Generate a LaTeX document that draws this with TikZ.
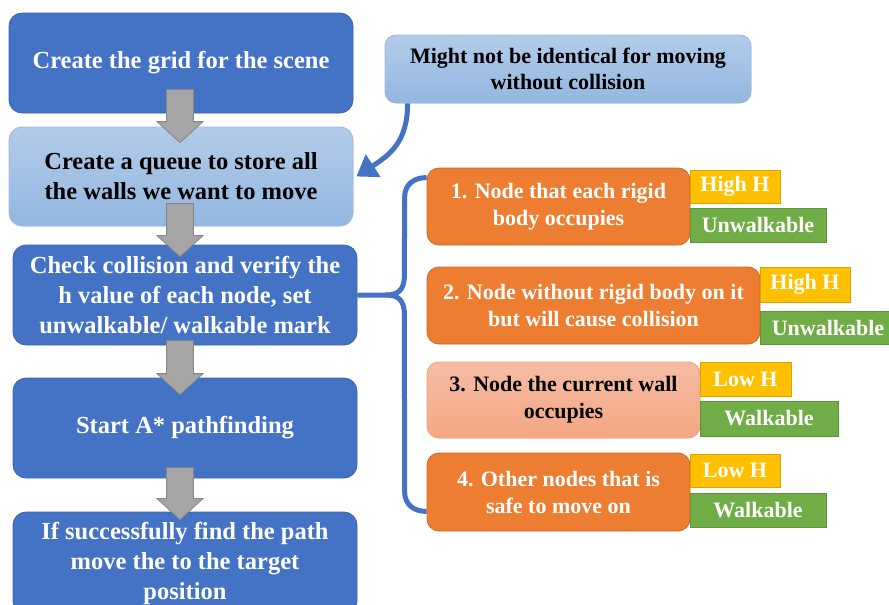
\documentclass[tikz,border=0pt]{standalone}
\usepackage{fontspec}
\setmainfont{Liberation Serif}
\usetikzlibrary{calc,arrows.meta}
\definecolor{dblue}{HTML}{4472C4}
\definecolor{dblueline}{HTML}{3B64AE}
\definecolor{lbtop}{HTML}{B3CBE9}
\definecolor{lbbot}{HTML}{93B7E0}
\definecolor{lbline}{HTML}{9DBBE2}
\definecolor{orng}{HTML}{ED7D31}
\definecolor{orngline}{HTML}{CC6624}
\definecolor{saltop}{HTML}{F6BDA4}
\definecolor{salbot}{HTML}{F4A683}
\definecolor{salline}{HTML}{F0A07E}
\definecolor{ylw}{HTML}{FFC000}
\definecolor{ylwline}{HTML}{D9A300}
\definecolor{grn}{HTML}{70AD47}
\definecolor{grnline}{HTML}{5C9639}
\definecolor{garrow}{HTML}{A5A5A5}
\definecolor{garrowline}{HTML}{868686}
\tikzset{
  bigbox/.style={draw=dblueline, line width=0.8pt, fill=dblue, rounded corners=13pt,
    text=white, font=\fontsize{24.5}{30}\selectfont\bfseries, align=center,
    inner sep=0pt, minimum width=344pt, minimum height=100pt},
  lightbox/.style={bigbox, draw=lbline, top color=lbtop, bottom color=lbbot, text=black},
  notebox/.style={lightbox, font=\fontsize{22}{26.5}\selectfont\bfseries, rounded corners=11pt},
  catbox/.style={draw=orngline, line width=0.8pt, fill=orng, rounded corners=12pt,
    text=white, font=\fontsize{22}{27}\selectfont\bfseries, align=center,
    inner sep=0pt},
  salbox/.style={catbox, draw=salline, top color=saltop, bottom color=salbot, text=black},
  tagy/.style={draw=ylwline, line width=0.8pt, fill=ylw, text=white,
    font=\fontsize{22}{26}\selectfont\bfseries, inner sep=0pt, minimum height=34pt},
  tagg/.style={tagy, draw=grnline, fill=grn},
  grayarrow/.style={fill=garrow, draw=garrowline, line width=0.8pt},
  bluecon/.style={draw=dblue, line width=5pt},
}
\newcommand{\blkarrow}[2]{%
  \draw[grayarrow] ($(#1)+(-13.5,0)$) -- ($(#2)+(-13.5,-21)$) -- ($(#2)+(-23,-21)$)
    -- (#2) -- ($(#2)+(23,-21)$) -- ($(#2)+(13.5,-21)$) -- ($(#1)+(13.5,0)$) -- cycle;}
\begin{document}
\begin{tikzpicture}[x=1pt,y=-1pt]
\useasboundingbox (0,0) rectangle (889,605);
\clip (0,0) rectangle (889,605);
\fill[white] (0,0) rectangle (889,605);

% left column
\node[bigbox] (b1) at (181,63) {Create the grid for the scene};
\node[lightbox, minimum height=99pt] (b2) at (181,176.5) {Create a queue to store all\\the walls we want to move};
\node[bigbox] (b3) at (185,295) {Check collision and verify the\\h value of each node, set\\unwalkable/ walkable mark};
\node[bigbox] (b4) at (185,428) {Start A* pathfinding};
\node[bigbox, minimum height=102pt] (b5) at (185,563) {If successfully find the path\\move the to the target\\position};

% note
\node[notebox, minimum width=366pt, minimum height=68pt] (nb) at (568,69) {Might not be identical for moving\\without collision};

% categories
\node[catbox, minimum width=263pt, minimum height=77pt] (o1) at (558.5,206.5) {1. Node that each rigid\\body occupies};
\node[catbox, minimum width=333pt, minimum height=77pt] (o2) at (593.5,305.5) {2. Node without rigid body on it\\but will cause collision};
\node[salbox, minimum width=273pt, minimum height=76pt] (o3) at (563.5,400) {3. Node the current wall\\occupies};
\node[catbox, minimum width=263pt, minimum height=78pt] (o4) at (558.5,492) {4. Other nodes that is\\safe to move on};

% tags
\node[tagy, minimum width=90pt, minimum height=33pt] (h1) at (735,186.5) {High H};
\node[tagg, minimum width=136pt] (u1) at (758,225) {Unwalkable};
\node[tagy, minimum width=90pt, minimum height=35pt] (h2) at (805,284.5) {High H};
\node[tagg, minimum width=136pt, minimum height=33pt] (u2) at (828,327.5) {Unwalkable};
\node[tagy, minimum width=91pt] (l3) at (745.5,379) {Low H};
\node[tagg, minimum width=138pt, minimum height=35pt] (w3) at (769,418.5) {Walkable};
\node[tagy, minimum width=90pt, minimum height=33pt] (l4) at (735,470.5) {Low H};
\node[tagg, minimum width=136pt] (w4) at (758,510) {Walkable};

% gray block arrows
\coordinate (a1s) at ($(b1.south)+(-1,-24)$);
\coordinate (a1e) at ($(b2.north)+(-1,16)$);
\coordinate (a2s) at ($(b2.south)+(-1,-23)$);
\coordinate (a2e) at ($(b3.north)+(-5,12)$);
\coordinate (a3s) at ($(b3.south)+(-5,-5)$);
\coordinate (a3e) at ($(b4.north)+(-5,17)$);
\coordinate (a4s) at ($(b4.south)+(-5,-11)$);
\coordinate (a4e) at ($(b5.north)+(-5,8)$);
\blkarrow{a1s}{a1e}
\blkarrow{a2s}{a2e}
\blkarrow{a3s}{a3e}
\blkarrow{a4s}{a4e}

% curved arrow from note to queue box
\coordinate (ns) at ($(nb.south west)+(23,0)$);
\draw[bluecon, -{Triangle[length=20pt,width=26pt]}] (ns) .. controls +(0,38) and +(34,-22) .. ($(b2.east)+(3,0)$);

% brace
\coordinate (bt) at ($(o1.north west)+(0,10)$);
\coordinate (bb) at ($(o4.south west)+(0,-20)$);
\coordinate (bm) at ($(b3.east)+(28,0)$);
\draw[bluecon, line join=round] (b3.east) -- (bm)
  .. controls +(12,0) and +(0,16) .. ($(bm)+(19,-20)$)
  -- ($(bt)+(-22,20)$)
  .. controls +(0,-14) and +(-12,0) .. (bt);
\draw[bluecon, line join=round] (bm)
  .. controls +(12,0) and +(0,-16) .. ($(bm)+(19,20)$)
  -- ($(bb)+(-22,-20)$)
  .. controls +(0,14) and +(-12,0) .. (bb);
\end{tikzpicture}
\end{document}
